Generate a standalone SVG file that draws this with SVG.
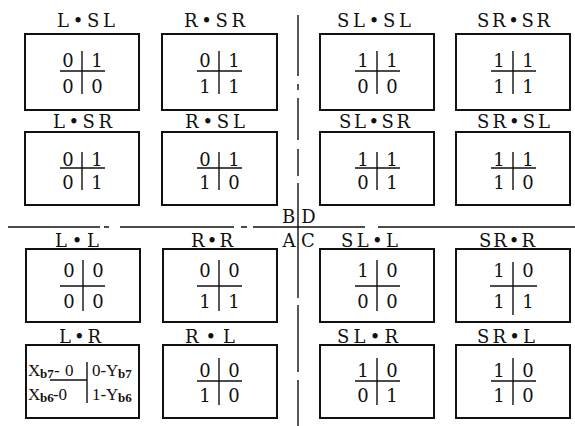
<svg xmlns="http://www.w3.org/2000/svg" width="575" height="426" viewBox="0 0 575 426">
  <style>
    .box { fill: none; stroke: #111; stroke-width: 2; }
    .rule { fill: none; stroke: #111; stroke-width: 1.4; }
    .axis { fill: none; stroke: #111; stroke-width: 1.4; }
    .lbl { font-family: "DejaVu Serif", "Liberation Serif", serif; font-size: 18px; fill: #111; }
    .dg { font-family: "DejaVu Serif", "Liberation Serif", serif; font-size: 18px; fill: #111; text-anchor: middle; }
    .ax { font-family: "DejaVu Serif", "Liberation Serif", serif; font-size: 18px; fill: #111; text-anchor: middle; }
    .lr { font-family: "Liberation Serif", "DejaVu Serif", serif; font-size: 17px; fill: #111; }
    .sub { font-family: "Liberation Serif", "DejaVu Serif", serif; font-size: 13px; font-weight: bold; fill: #111; }
  </style>

  <!-- quadrant axes -->
  <g id="connectors">
    <path class="axis" d="M298 15V76 M298 84V90 M298 98V140 M298 149V176 M298 183V298 M298 305V372 M298 380V426"/>
    <path class="axis" d="M8 227H100 M104 227H109 M120 227H234 M241 227H247 M253 227H365 M378 227H575"/>
  </g>

  <g id="quadrant-labels">
    <text class="ax" x="288.5" y="223">B</text>
    <text class="ax" x="308.5" y="223">D</text>
    <text class="ax" x="289" y="247">A</text>
    <text class="ax" x="308" y="247">C</text>
  </g>

  <!-- row 1 -->
  <g id="L-SL">
    <text class="lbl" x="57" y="27" textLength="58" lengthAdjust="spacing">L•SL</text>
    <rect class="box" x="25" y="34" width="114" height="76"/>
    <path class="rule" d="M60 71H105 M82 51V94"/>
    <text class="dg" x="68" y="67">0</text><text class="dg" x="97" y="67">1</text>
    <text class="dg" x="68" y="93">0</text><text class="dg" x="97" y="93">0</text>
  </g>
  <g id="R-SR">
    <text class="lbl" x="184" y="27" textLength="61" lengthAdjust="spacing">R•SR</text>
    <rect class="box" x="162" y="34" width="115" height="76"/>
    <path class="rule" d="M197 71H242 M219 51V94"/>
    <text class="dg" x="205" y="67">0</text><text class="dg" x="234" y="67">1</text>
    <text class="dg" x="205" y="93">1</text><text class="dg" x="234" y="93">1</text>
  </g>
  <g id="SL-SL">
    <text class="lbl" x="337" y="27" textLength="74" lengthAdjust="spacing">SL•SL</text>
    <rect class="box" x="320" y="34" width="114" height="76"/>
    <path class="rule" d="M355 71H400 M377 51V94"/>
    <text class="dg" x="363" y="67">1</text><text class="dg" x="392" y="67">1</text>
    <text class="dg" x="363" y="93">0</text><text class="dg" x="392" y="93">0</text>
  </g>
  <g id="SR-SR">
    <text class="lbl" x="477" y="27" textLength="73" lengthAdjust="spacing">SR•SR</text>
    <rect class="box" x="456" y="34" width="114" height="76"/>
    <path class="rule" d="M491 71H536 M513 51V94"/>
    <text class="dg" x="499" y="67">1</text><text class="dg" x="528" y="67">1</text>
    <text class="dg" x="499" y="93">1</text><text class="dg" x="528" y="93">1</text>
  </g>

  <!-- row 2 -->
  <g id="L-SR">
    <text class="lbl" x="53" y="128" textLength="59" lengthAdjust="spacing">L•SR</text>
    <rect class="box" x="25" y="132" width="114" height="73"/>
    <path class="rule" d="M60 168H105 M82 152V190"/>
    <text class="dg" x="68" y="166">0</text><text class="dg" x="97" y="166">1</text>
    <text class="dg" x="68" y="189">0</text><text class="dg" x="97" y="189">1</text>
  </g>
  <g id="R-SL">
    <text class="lbl" x="185" y="128" textLength="60" lengthAdjust="spacing">R•SL</text>
    <rect class="box" x="162" y="132" width="115" height="73"/>
    <path class="rule" d="M197 168H242 M219 152V190"/>
    <text class="dg" x="205" y="166">0</text><text class="dg" x="234" y="166">1</text>
    <text class="dg" x="205" y="189">1</text><text class="dg" x="234" y="189">0</text>
  </g>
  <g id="SL-SR">
    <text class="lbl" x="339" y="128" textLength="71" lengthAdjust="spacing">SL•SR</text>
    <rect class="box" x="320" y="132" width="114" height="73"/>
    <path class="rule" d="M355 168H400 M377 152V190"/>
    <text class="dg" x="363" y="166">1</text><text class="dg" x="392" y="166">1</text>
    <text class="dg" x="363" y="189">0</text><text class="dg" x="392" y="189">1</text>
  </g>
  <g id="SR-SL">
    <text class="lbl" x="477" y="128" textLength="73" lengthAdjust="spacing">SR•SL</text>
    <rect class="box" x="456" y="132" width="114" height="73"/>
    <path class="rule" d="M491 168H536 M513 152V190"/>
    <text class="dg" x="499" y="166">1</text><text class="dg" x="528" y="166">1</text>
    <text class="dg" x="499" y="189">1</text><text class="dg" x="528" y="189">0</text>
  </g>

  <!-- row 3 -->
  <g id="L-L">
    <text class="lbl" x="55" y="247" textLength="44" lengthAdjust="spacing">L•L</text>
    <rect class="box" x="26" y="249" width="114" height="73"/>
    <path class="rule" d="M60 286H105 M83 260V311"/>
    <text class="dg" x="69" y="277">0</text><text class="dg" x="98" y="277">0</text>
    <text class="dg" x="69" y="308">0</text><text class="dg" x="98" y="308">0</text>
  </g>
  <g id="R-R">
    <text class="lbl" x="191" y="247" textLength="42" lengthAdjust="spacing">R•R</text>
    <rect class="box" x="163" y="249" width="114" height="73"/>
    <path class="rule" d="M197 286H242 M219 260V311"/>
    <text class="dg" x="205" y="277">0</text><text class="dg" x="234" y="277">0</text>
    <text class="dg" x="205" y="308">1</text><text class="dg" x="234" y="308">1</text>
  </g>
  <g id="SL-L">
    <text class="lbl" x="341" y="247" textLength="57" lengthAdjust="spacing">SL•L</text>
    <rect class="box" x="320" y="249" width="114" height="73"/>
    <path class="rule" d="M355 286H400 M377 260V311"/>
    <text class="dg" x="363" y="277">1</text><text class="dg" x="392" y="277">0</text>
    <text class="dg" x="363" y="308">0</text><text class="dg" x="392" y="308">0</text>
  </g>
  <g id="SR-R">
    <text class="lbl" x="479" y="247" textLength="56" lengthAdjust="spacing">SR•R</text>
    <rect class="box" x="456" y="249" width="114" height="73"/>
    <path class="rule" d="M490 286H537 M513 262V315"/>
    <text class="dg" x="499" y="277">1</text><text class="dg" x="528" y="277">0</text>
    <text class="dg" x="499" y="308">1</text><text class="dg" x="528" y="308">1</text>
  </g>

  <!-- row 4 -->
  <g id="L-R">
    <text class="lbl" x="59" y="343" textLength="42" lengthAdjust="spacing">L•R</text>
    <rect class="box" x="26" y="345" width="113" height="73"/>
    <path class="rule" d="M50 380H87 M87 362V403"/>
    <text class="lr" x="28" y="376">X</text><text class="sub" x="40" y="378">b7</text>
    <text class="lr" x="54" y="376">-</text><text class="lr" x="65" y="376">0</text>
    <text class="lr" x="92" y="376">0</text><text class="lr" x="100.5" y="376">-</text>
    <text class="lr" x="106" y="376">Y</text><text class="sub" x="118" y="378">b7</text>
    <text class="lr" x="28" y="400">X</text><text class="sub" x="40" y="402">b6</text>
    <text class="lr" x="53" y="400">-</text><text class="lr" x="58.5" y="400">0</text>
    <text class="lr" x="92" y="400">1</text><text class="lr" x="100.5" y="400">-</text>
    <text class="lr" x="106" y="400">Y</text><text class="sub" x="118" y="402">b6</text>
  </g>
  <g id="R-L">
    <text class="lbl" x="185" y="343" textLength="50" lengthAdjust="spacing">R•L</text>
    <rect class="box" x="163" y="345" width="114" height="73"/>
    <path class="rule" d="M197 381H242 M219 358V405"/>
    <text class="dg" x="205" y="377">0</text><text class="dg" x="234" y="377">0</text>
    <text class="dg" x="205" y="402">1</text><text class="dg" x="234" y="402">0</text>
  </g>
  <g id="SL-R">
    <text class="lbl" x="337" y="343" textLength="61" lengthAdjust="spacing">SL•R</text>
    <rect class="box" x="320" y="345" width="114" height="73"/>
    <path class="rule" d="M355 381H400 M377 358V405"/>
    <text class="dg" x="363" y="377">1</text><text class="dg" x="392" y="377">0</text>
    <text class="dg" x="363" y="402">0</text><text class="dg" x="392" y="402">1</text>
  </g>
  <g id="SR-L">
    <text class="lbl" x="477" y="343" textLength="58" lengthAdjust="spacing">SR•L</text>
    <rect class="box" x="456" y="345" width="114" height="73"/>
    <path class="rule" d="M491 381H536 M513 358V405"/>
    <text class="dg" x="499" y="377">1</text><text class="dg" x="528" y="377">0</text>
    <text class="dg" x="499" y="402">1</text><text class="dg" x="528" y="402">0</text>
  </g>
</svg>
